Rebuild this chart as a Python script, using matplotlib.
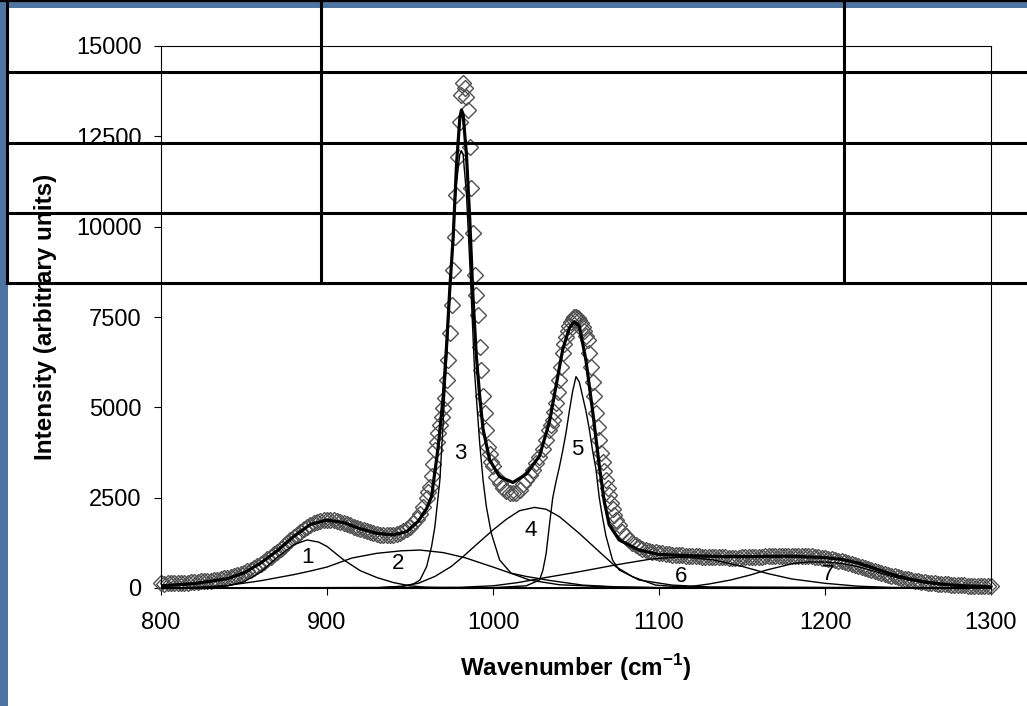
# Raman spectrum with fitted band components (1-7), drawn on a slide-like background
import numpy as np
import matplotlib
matplotlib.use('Agg')
import matplotlib.pyplot as plt
from matplotlib.lines import Line2D
from matplotlib.patches import Rectangle

plt.rcParams['font.family'] = ['Liberation Sans', 'DejaVu Sans']
plt.rcParams['mathtext.fontset'] = 'custom'
plt.rcParams['mathtext.rm'] = 'Liberation Sans'
plt.rcParams['mathtext.bf'] = 'Liberation Sans:bold'

# ---------------------------------------------------------------
# measured spectrum (diamonds), split by sampling step
# ---------------------------------------------------------------
wn_a = np.arange(800, 960, 2)
int_a = [130, 120, 135, 125, 140, 135, 145, 150, 140, 160,
         165, 170, 180, 190, 195, 205, 215, 230, 250, 265,
         280, 300, 320, 350, 385, 420, 460, 505, 560, 615,
         670, 730, 790, 860, 930, 1010, 1080, 1160, 1240, 1320,
         1400, 1480, 1560, 1630, 1690, 1740, 1790, 1830, 1855, 1875,
         1885, 1885, 1875, 1860, 1835, 1805, 1770, 1735, 1700, 1665,
         1630, 1595, 1565, 1540, 1515, 1495, 1480, 1470, 1465, 1470,
         1480, 1500, 1530, 1570, 1630, 1700, 1790, 1900, 2050, 2250]

wn_b = np.arange(960, 1000, 1)
int_b = [2500, 2650, 2800, 3100, 3420, 3820, 4050, 4280, 4500, 4740,
         4970, 5250, 5760, 6310, 7050, 7830, 8800, 9720, 10880, 11940,
         12910, 13650, 13970, 13830, 13600, 13230, 12210, 11060, 9820, 8660,
         8100, 7560, 6680, 6030, 5300, 4840, 4370, 3910, 3700, 3500]

wn_c = np.arange(1000, 1035, 2)
int_c = [3380, 3080, 2900, 2760, 2680, 2630, 2620, 2640, 2700, 2880,
         3000, 3130, 3270, 3450, 3630, 3850, 4100, 4370]

wn_d = np.arange(1035, 1075, 1)
int_d = [4500, 4650, 4880, 5110, 5430, 5760, 6130, 6500, 6750, 6950,
         7120, 7260, 7370, 7440, 7490, 7510, 7480, 7420, 7330, 7220,
         7100, 6980, 6860, 6500, 6130, 5700, 5300, 4850, 4450, 4100,
         3750, 3500, 3230, 3000, 2780, 2570, 2360, 2200, 2030, 1880]

wn_e = np.arange(1076, 1301, 2)
int_e = [1730, 1560, 1430, 1330, 1250, 1180, 1130, 1090, 1060, 1030,
         1010, 990, 975, 960, 950, 935, 920, 915, 905, 900,
         895, 890, 885, 880, 875, 870, 866, 860, 858, 855,
         850, 848, 845, 840, 838, 840, 842, 845, 848, 852,
         855, 860, 865, 870, 874, 878, 882, 886, 890, 893,
         895, 897, 898, 898, 896, 893, 888, 882, 874, 865,
         854, 842, 828, 812, 795, 776, 756, 735, 712, 690,
         666, 640, 614, 586, 558, 530, 502, 475, 448, 420,
         394, 368, 344, 320, 298, 276, 256, 237, 220, 204,
         189, 175, 162, 150, 139, 129, 120, 112, 105, 98,
         92, 86, 81, 76, 72, 68, 64, 60, 57, 54,
         51, 48, 45]

# ---------------------------------------------------------------
# fitted envelope and band components
# ---------------------------------------------------------------
fit_wn = [800, 820, 840, 850, 860, 870, 880, 890, 900, 910,
          920, 930, 940, 948, 955, 960, 963, 967, 970, 972,
          974, 976, 978, 980, 981, 982, 984, 986, 988, 990,
          992, 994, 998, 1004, 1012, 1020, 1028, 1034, 1038, 1042,
          1046, 1049, 1052, 1056, 1060, 1064, 1067, 1070, 1076, 1088,
          1100, 1120, 1140, 1160, 1180, 1200, 1210, 1220, 1230, 1240,
          1250, 1260, 1270, 1280, 1300]
fit_int = [60, 120, 260, 420, 690, 1030, 1430, 1760, 1880, 1810,
           1640, 1510, 1470, 1560, 1850, 2200, 2530, 3910, 5300, 6680,
           8300, 9700, 11700, 13000, 13230, 13100, 12000, 10200, 8000, 6400,
           5300, 4400, 3540, 3080, 2920, 3150, 3650, 4600, 5600, 6600,
           7200, 7370, 7250, 6300, 4900, 3400, 2400, 1750, 1330, 1050,
           930, 890, 870, 870, 880, 840, 790, 690, 540, 380,
           260, 170, 110, 70, 30]

band1_wn = [800, 830, 840, 850, 860, 870, 880, 888, 895, 900, 910, 920, 930, 940, 950, 960, 975, 1300]
band1 = [0, 20, 60, 170, 440, 850, 1200, 1330, 1270, 1150, 780, 480, 290, 150, 60, 20, 0, 0]

band2_wn = [800, 820, 840, 860, 880, 890, 900, 915, 930, 945, 956, 970, 983, 1000, 1010, 1020,
            1034, 1054, 1075, 1100, 1300]
band2 = [0, 15, 70, 200, 370, 470, 580, 830, 960, 1030, 1050, 980, 840, 580, 420, 320,
         210, 80, 30, 10, 0]

band3_wn = [800, 930, 945, 952, 956, 960, 963, 965, 968, 970, 972, 974, 976, 978, 980, 981,
            982, 984, 986, 989, 992, 994, 996, 999, 1004, 1011, 1022, 1040, 1070, 1100, 1300]
band3 = [0, 5, 40, 110, 220, 590, 1150, 1700, 2990, 4600, 6300, 8100, 9900, 11200, 12000, 12100,
         12000, 10900, 9000, 5900, 4000, 2990, 2250, 1510, 775, 405, 220, 90, 30, 10, 0]

band4_wn = [800, 930, 945, 955, 965, 975, 982, 990, 1000, 1008, 1016, 1025, 1032, 1040, 1052,
            1064, 1074, 1084, 1098, 1120, 1300]
band4 = [0, 5, 50, 130, 320, 600, 870, 1200, 1605, 1900, 2140, 2230, 2180, 1975, 1510,
         1005, 590, 315, 80, 10, 0]

band5_wn = [800, 1000, 1020, 1028, 1030, 1032, 1034, 1036, 1038, 1040, 1042, 1044, 1046, 1048,
            1050, 1052, 1054, 1056, 1058, 1060, 1062, 1064, 1066, 1068, 1072, 1076, 1088, 1108,
            1130, 1300]
band5 = [0, 10, 60, 220, 480, 950, 1750, 2500, 2950, 3350, 3800, 4300, 4900, 5450,
         5850, 5700, 5300, 4900, 4400, 3800, 3300, 2500, 1950, 1450, 775, 500, 220, 80,
         30, 0]

band6_wn = [800, 980, 1000, 1015, 1030, 1052, 1074, 1095, 1110, 1120, 1133, 1150, 1165, 1180,
            1200, 1220, 1240, 1300]
band6 = [0, 20, 60, 150, 275, 450, 640, 800, 850, 840, 775, 600, 405, 250,
         130, 50, 15, 0]

band7_wn = [800, 1100, 1118, 1130, 1143, 1155, 1165, 1181, 1190, 1200, 1210, 1220, 1230, 1240,
            1250, 1260, 1270, 1280, 1300]
band7 = [0, 5, 35, 110, 220, 360, 500, 680, 720, 720, 680, 590, 460, 320,
         220, 140, 90, 55, 20]

band_labels = ['1', '2', '3', '4', '5', '6', '7']
label_wn = [888, 943, 980.5, 1023, 1050.5, 1113.5, 1202]
label_int = [850, 683, 3730, 1580, 3840, 332, 360]

# ---------------------------------------------------------------
# figure: slide background, white panel, axes
# ---------------------------------------------------------------
W, H = 1027, 706
fig = plt.figure(figsize=(W / 100, H / 100), dpi=100, facecolor='#4e74a2')
fig.add_artist(Rectangle((8 / W, 0), (W - 8) / W, (H - 8) / H, transform=fig.transFigure,
                         facecolor='white', edgecolor='none', zorder=-1))

ax = fig.add_axes([161 / W, 1 - 588 / H, 830 / W, 542 / H])
ax.set_facecolor('none')

wn_meas = np.concatenate([wn_a, wn_b, wn_c, wn_d, wn_e])
int_meas = np.concatenate([int_a, int_b, int_c, int_d, int_e])
ax.plot(wn_meas, int_meas, ls='none', marker='D', ms=8.5, mfc='none',
        mec='#505050', mew=1.0, zorder=2, clip_on=False)

bands = [(band1_wn, band1), (band2_wn, band2), (band3_wn, band3), (band4_wn, band4),
         (band5_wn, band5), (band6_wn, band6), (band7_wn, band7)]
for bw, bi in bands:
    ax.plot(bw, bi, color='black', lw=1.0, zorder=3)

ax.plot(fit_wn, fit_int, color='black', lw=2.3, zorder=4)

for lab, lx, ly in zip(band_labels, label_wn, label_int):
    ax.text(lx, ly, lab, fontsize=16, ha='center', va='center', zorder=5)

ax.set_xlim(800, 1300)
ax.set_ylim(0, 15000)
ax.set_xticks(range(800, 1301, 100))
ax.set_yticks(range(0, 15001, 2500))
ax.tick_params(direction='out', length=5, width=0.8, labelsize=17, color='black')
ax.tick_params(axis='x', pad=12.5)
ax.tick_params(axis='y', pad=9)
for sp in ax.spines.values():
    sp.set_linewidth(0.8)

fig.text(576 / W, 1 - 668 / H, 'Wavenumber (cm$^{\\mathbf{-1}}$)', fontsize=17.5,
         fontweight='bold', ha='center', va='center')
fig.text(46 / W, 1 - 317 / H, 'Intensity (arbitrary units)', fontsize=17.5,
         fontweight='bold', rotation=90, ha='center', va='center')

# table grid lying over the slide
def hline(y, x0, x1, lw):
    fig.add_artist(Line2D([x0 / W, x1 / W], [1 - y / H, 1 - y / H], transform=fig.transFigure,
                          color='black', lw=lw, zorder=10))

def vline(x, y0, y1, lw):
    fig.add_artist(Line2D([x / W, x / W], [1 - y0 / H, 1 - y1 / H], transform=fig.transFigure,
                          color='black', lw=lw, zorder=10))

hline(1, 0, W, 1.6)
for ty in [72, 143, 213, 283]:
    hline(ty, 7, W, 2.2)
for tx in [7, 321, 844]:
    vline(tx, 0, 283, 2.2)

fig.savefig('out.png', dpi=100, facecolor=fig.get_facecolor())
